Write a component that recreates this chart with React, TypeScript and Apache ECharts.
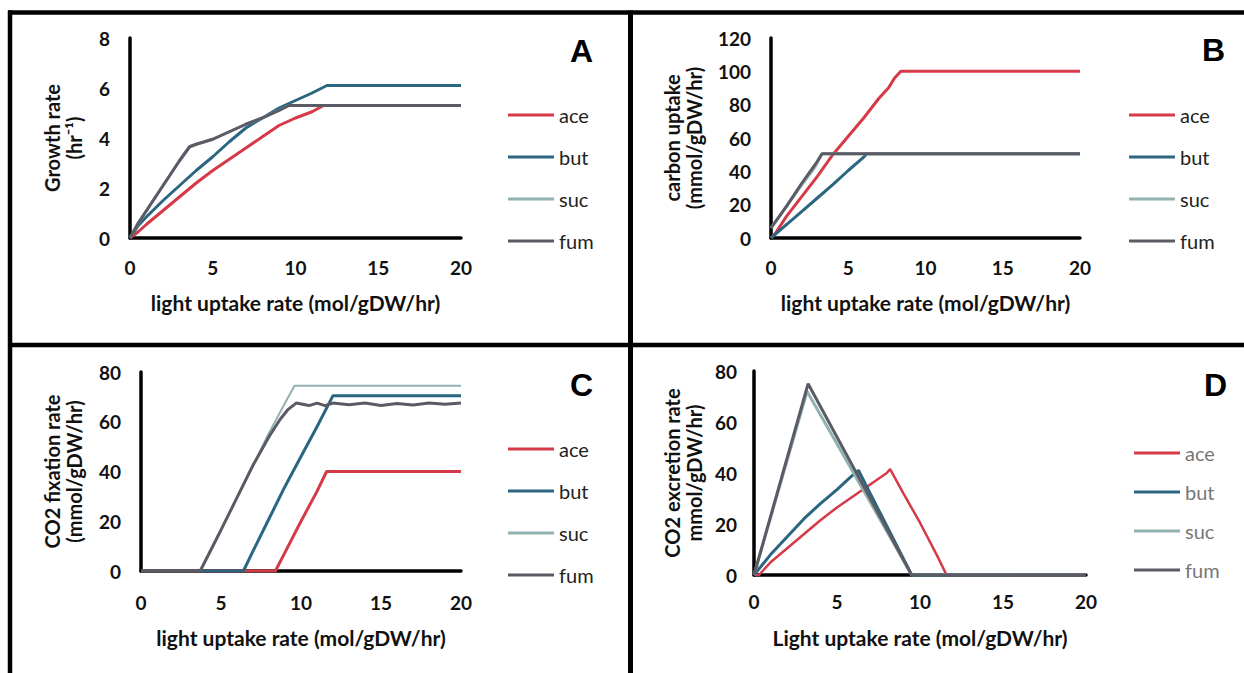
import React, { useEffect, useRef } from "react";
import * as echarts from "echarts";

const seriesNames = ["ace", "but", "suc", "fum"];
const seriesColors = ["#d63a48", "#2b6680", "#91b2b0", "#5b5b66"];
const panelLetters = ["A", "B", "C", "D"];

const xTitleA = "light uptake rate (mol/gDW/hr)";
const xTitleD = "Light uptake rate (mol/gDW/hr)";
const yTitles = [
  "Growth rate\n(hr\u207B\u00B9)",
  "carbon uptake\n(mmol/gDW/hr)",
  "CO2 fixation rate\n(mmol/gDW/hr)",
  "CO2 excretion rate\nmmol/gDW/hr)",
];
const yMax = [8, 120, 80, 80];
const yStep = [2, 20, 20, 20];

// Panel A: growth rate
const aAce = [[0, 0], [0.5, 0.25], [1, 0.55], [2, 1.1], [3, 1.65], [4, 2.2], [5, 2.7], [6, 3.15], [7, 3.6], [8, 4.05], [9, 4.5], [10, 4.8], [11, 5.05], [11.7, 5.3], [20, 5.3]];
const aBut = [[0, 0], [0.5, 0.5], [1, 0.85], [2, 1.5], [3, 2.1], [4, 2.7], [5, 3.25], [6, 3.85], [7, 4.4], [8, 4.8], [9, 5.2], [10, 5.5], [11, 5.8], [11.9, 6.1], [20, 6.1]];
const aSuc = [[0, 0], [0.5, 0.6], [1, 1.1], [2, 2.1], [3, 3.1], [3.6, 3.65], [4, 3.75], [5, 3.95], [6, 4.25], [7, 4.55], [8, 4.8], [9, 5.1], [9.6, 5.3], [20, 5.3]];
const aFum = [[0, 0], [0.5, 0.6], [1, 1.1], [2, 2.1], [3, 3.1], [3.6, 3.65], [4, 3.75], [5, 3.95], [6, 4.25], [7, 4.55], [8, 4.8], [9, 5.1], [9.6, 5.3], [20, 5.3]];

// Panel B: carbon uptake
const bAce = [[0, 0], [0.3, 3], [1, 13], [2, 25], [3, 37], [4, 50], [5, 61], [6, 72], [7, 84], [7.6, 90], [8, 96], [8.4, 100], [20, 100]];
const bBut = [[0, 0], [1, 8], [2, 16], [3, 24], [4, 32], [5, 40.5], [6, 48.5], [6.2, 50.5], [20, 50.5]];
const bSuc = [[0, 6], [1, 19], [2, 32], [2.8, 42], [3.3, 50.5], [20, 50.5]];
const bFum = [[0, 6], [1, 19], [2, 33], [3, 46], [3.3, 50.5], [20, 50.5]];

// Panel C: CO2 fixation rate
const cAce = [[0, 0], [8.4, 0], [9, 7.5], [10, 20], [11, 32], [11.6, 40], [20, 40]];
const cBut = [[0, 0], [6.4, 0], [7, 8], [8, 21], [9, 34], [10, 46], [11, 58], [12, 70.5], [20, 70.5]];
const cSuc = [[0, 0], [3.7, 0], [5, 16.5], [6, 29.5], [7, 42.5], [8, 55.5], [9, 67.5], [9.6, 74.5], [20, 74.5]];
const cFum = [[0, 0], [3.7, 0], [5, 16.5], [6, 29.5], [7, 42.5], [8, 54], [8.7, 61], [9.2, 65], [9.7, 67.5], [10.5, 66.5], [11, 67.5], [11.5, 66.5], [12, 67.5], [13, 66.8], [14, 67.5], [15, 66.5], [16, 67.3], [17, 66.7], [18, 67.5], [19, 67], [20, 67.5]];

// Panel D: CO2 excretion rate
const dAce = [[0, 0], [0.3, 0], [1, 5], [2, 10.5], [3, 16], [4, 21.5], [5, 26.5], [6, 31], [7, 35.5], [8, 40], [8.2, 41.5], [9, 32], [10, 20.5], [11, 8], [11.6, 0], [20, 0]];
const dBut = [[0, 0], [0.5, 4], [1, 8], [2, 15], [3, 22], [4, 28], [5, 33.5], [5.5, 36.5], [6, 39.5], [6.3, 41], [7, 32], [8, 19.2], [9, 6.4], [9.5, 0], [20, 0]];
const dSuc = [[0, 0], [3.2, 72], [9.5, 0], [20, 0]];
const dFum = [[0, 0], [3.26, 75], [9.5, 0], [20, 0]];

const panelData = [
  [aAce, aBut, aSuc, aFum],
  [bAce, bBut, bSuc, bFum],
  [cAce, cBut, cSuc, cFum],
  [dAce, dBut, dSuc, dFum],
];

const lineWidths = [
  [3, 3, 3, 3],
  [3, 3, 3, 3],
  [3, 3, 2, 3],
  [2.5, 3, 3, 3],
];

const FONT = "Lato";

export default function App() {
  const ref = useRef<HTMLDivElement>(null);

  useEffect(() => {
    if (!ref.current) return;
    const chart = echarts.init(ref.current, undefined, { renderer: "svg" });

    const grids = [
      { left: 130, top: 38, width: 331, height: 200 },
      { left: 771, top: 38, width: 309, height: 200 },
      { left: 141, top: 372, width: 320, height: 199 },
      { left: 754, top: 371, width: 332, height: 204 },
    ];
    const yLabelMargin = [20, 20, 20, 17];
    const xLabelMargin = [20, 20, 22, 17];
    const xNameGap = [54, 54, 56, 52];
    const yNameGap = [45, 66, 56, 49];

    const xAxes = grids.map((_, i) => ({
      type: "value",
      gridIndex: i,
      min: 0,
      max: 20,
      interval: 5,
      name: i === 3 ? xTitleD : xTitleA,
      nameLocation: "middle",
      nameGap: xNameGap[i],
      nameTextStyle: { fontFamily: FONT, fontWeight: "bold", fontSize: 21, color: "#111" },
      axisLine: { show: true, onZero: false, lineStyle: { color: "#000", width: 3.5 } },
      axisTick: { show: false },
      splitLine: { show: false },
      axisLabel: { margin: xLabelMargin[i], fontFamily: FONT, fontWeight: "bold", fontSize: 19, color: "#111" },
    }));

    const yAxes = grids.map((_, i) => ({
      type: "value",
      gridIndex: i,
      min: 0,
      max: yMax[i],
      interval: yStep[i],
      name: yTitles[i],
      nameLocation: "middle",
      nameRotate: 90,
      nameGap: yNameGap[i],
      nameTextStyle: { fontFamily: FONT, fontWeight: "bold", fontSize: 20, lineHeight: 22, color: "#111" },
      axisLine: { show: true, lineStyle: { color: "#000", width: 3.5 } },
      axisTick: { show: false },
      splitLine: { show: false },
      axisLabel: { margin: yLabelMargin[i], fontFamily: FONT, fontWeight: "bold", fontSize: 19, color: "#111" },
    }));

    const series: any[] = [];
    panelData.forEach((panel, p) => {
      panel.forEach((data, s) => {
        series.push({
          type: "line",
          name: seriesNames[s],
          xAxisIndex: p,
          yAxisIndex: p,
          data,
          symbol: "none",
          showSymbol: false,
          lineStyle: { color: seriesColors[s], width: lineWidths[p][s] },
          itemStyle: { color: seriesColors[s] },
          z: 3 + s,
        });
      });
    });

    const legendPos = [
      { left: 508, top: 104, gap: 20 },
      { left: 1129, top: 104, gap: 20 },
      { left: 508, top: 438, gap: 20 },
      { left: 1134, top: 442, gap: 17 },
    ];
    const legends = legendPos.map((l, i) => ({
      orient: "vertical",
      left: l.left,
      top: l.top,
      icon: "rect",
      itemWidth: 46,
      itemHeight: 3,
      itemGap: l.gap,
      padding: 0,
      selectedMode: false,
      data: seriesNames,
      textStyle: {
        fontFamily: FONT,
        fontSize: 20,
        lineHeight: 22,
        color: i === 3 ? "#777" : "#222",
      },
    }));

    const letterPos = [
      [570, 51],
      [1202, 50],
      [570, 385],
      [1204, 385],
    ];

    const frameLine = (x1: number, y1: number, x2: number, y2: number, w: number) => ({
      type: "line",
      shape: { x1, y1, x2, y2 },
      style: { stroke: "#000", lineWidth: w },
      z: 10,
    });

    const graphic: any[] = [
      frameLine(8, 12.5, 1244, 12.5, 4.5),
      frameLine(10, 10.5, 10, 673, 4.5),
      frameLine(630.5, 10.5, 630.5, 673, 5),
      frameLine(8, 345, 1244, 345, 4.5),
      ...panelLetters.map((t, i) => ({
        type: "text",
        x: letterPos[i][0],
        y: letterPos[i][1],
        style: {
          text: t,
          font: "bold 32px 'Liberation Sans'",
          fill: "#000",
          textAlign: "left",
          textVerticalAlign: "middle",
        },
        z: 10,
      })),
    ];

    chart.setOption({
      animation: false,
      backgroundColor: "#fff",
      grid: grids,
      xAxis: xAxes,
      yAxis: yAxes,
      legend: legends,
      series,
      graphic,
    });

    return () => chart.dispose();
  }, []);

  return (
    <div
      ref={ref}
      style={{ position: "fixed", left: 0, top: 0, width: 1244, height: 673, background: "#fff" }}
    />
  );
}
